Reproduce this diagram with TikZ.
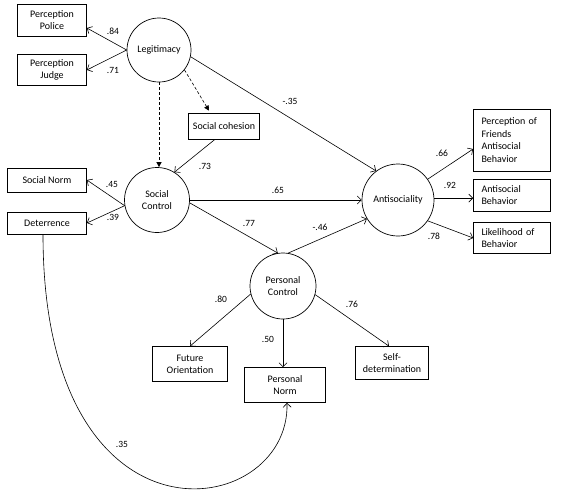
\documentclass[tikz,border=0pt]{standalone}
\usepackage{fontspec}
\setmainfont{Carlito}
\usepackage{tikz}
\usetikzlibrary{positioning, arrows.meta}

\begin{document}
\begin{tikzpicture}[
x=1pt, y=-1pt,
latent/.style={circle, draw, line width=0.7pt, inner sep=0pt, align=center, font=\fontsize{10}{12}\selectfont},
box/.style={rectangle, draw, line width=0.7pt, inner sep=0pt, align=center, font=\fontsize{10}{12}\selectfont},
boxleft/.style={box, align=left, text width=61pt, inner xsep=8pt, font=\fontsize{10}{12.6}\selectfont},
arrow/.style={-{Straight Barb[length=4pt, width=8pt]}, line width=0.6pt},
arrownv/.style={-{Triangle[length=5pt, width=5pt]}, line width=0.6pt, dash pattern=on 3pt off 2pt},
coef/.style={font=\fontsize{9.5}{11}\selectfont, inner sep=0pt}
]
\useasboundingbox (0,0) rectangle (566,496);

\node[latent, minimum size=64pt] (sem_legitimacy) at (159,50) {Legitimacy};
\node[latent, minimum size=65pt] (sem_socialctl) at (157,200) {Social\\Control};
\node[latent, minimum size=72pt] (sem_antisociality) at (398,200) {Antisociality};
\node[latent, minimum size=66pt] (sem_personalctl) at (283,286) {Personal\\Control};

\node[box, minimum width=69pt, minimum height=32pt] (box_police) at (52,20) {Perception\\Police};
\node[box, minimum width=69pt, minimum height=31pt] (box_judge) at (52,70) {Perception\\Judge};
\node[box, minimum width=71pt, minimum height=26pt] (box_cohesion) at (224,126) {Social cohesion};
\node[box, minimum width=79pt, minimum height=24pt] (box_socialnorm) at (47,180) {Social Norm};
\node[box, minimum width=79pt, minimum height=22pt] (box_deterrence) at (47,223) {Deterrence};
\node[boxleft, minimum height=62pt] (box_friends) at (512,140) {Perception of\\Friends\\Antisocial\\Behavior};
\node[boxleft, minimum height=32pt] (box_antisocial) at (512,195) {Antisocial\\Behavior};
\node[boxleft, minimum height=31pt] (box_likelihood) at (512,238) {Likelihood of\\Behavior};
\node[box, minimum width=75pt, minimum height=35pt] (box_future) at (190,364) {Future\\Orientation};
\node[box, minimum width=81pt, minimum height=35pt] (box_personalnorm) at (285,385) {Personal\\Norm};
\node[box, minimum width=73pt, minimum height=33pt] (box_selfdet) at (392,363) {Self-\\determination};

\draw[arrow] (sem_legitimacy.west) -- ([yshift=-8pt]box_police.east);
\draw[arrow] (sem_legitimacy.west) -- (box_judge.east);
\draw[arrow] (sem_legitimacy.-12) -- (sem_antisociality.127);
\draw[arrownv] (sem_legitimacy.south) -- (sem_legitimacy.south |- sem_socialctl.north);
\draw[arrownv] (sem_legitimacy.-38) -- ([xshift=-15pt, yshift=2pt]box_cohesion.north);
\draw[arrow] ([xshift=-9pt]box_cohesion.south) -- (sem_socialctl.58);
\draw[arrow] (sem_socialctl.190) -- (box_socialnorm.east);
\draw[arrow] (sem_socialctl.190) -- (box_deterrence.east);
\draw[arrow] (sem_socialctl.east) -- (sem_antisociality.west);
\draw[arrow] (sem_socialctl.-5) -- (sem_personalctl.99);
\draw[arrow] (sem_personalctl.81) -- (sem_antisociality.211);
\draw[arrow] (sem_antisociality.35) -- ([yshift=-9pt]box_friends.west);
\draw[arrow] (sem_antisociality.3) -- (sem_antisociality.3 -| box_antisocial.west);
\draw[arrow] (sem_antisociality.-35) -- (box_likelihood.west);
\draw[arrow] (sem_personalctl.194) -- (box_future.north);
\draw[arrow] (sem_personalctl.south) -- (sem_personalctl.south |- box_personalnorm.north);
\draw[arrow] (sem_personalctl.-15) -- ([xshift=-3pt]box_selfdet.north);
\draw[arrow] ([xshift=-4pt]box_deterrence.south) .. controls +(0,326) and +(3,118) .. ([xshift=2pt]box_personalnorm.south);

\node[coef] (w_police) at (113,31) {.84};
\node[coef] (w_judge) at (113,70) {.71};
\node[coef] (w_legit_anti) at (290,101) {-.35};
\node[coef] (w_cohesion) at (205,166) {.73};
\node[coef] (w_socialnorm) at (112,184) {.45};
\node[coef] (w_deterrence) at (113,217) {.39};
\node[coef] (w_social_anti) at (278,190) {.65};
\node[coef] (w_social_pers) at (249,223) {.77};
\node[coef] (w_pers_anti) at (320,227) {-.46};
\node[coef] (w_friends) at (442,153) {.66};
\node[coef] (w_antisocial) at (450,185) {.92};
\node[coef] (w_likelihood) at (434,236) {.78};
\node[coef] (w_future) at (221,299) {.80};
\node[coef] (w_personalnorm) at (268,339) {.50};
\node[coef] (w_selfdet) at (352,304) {.76};
\node[coef] (w_deter_norm) at (122,444) {.35};

\end{tikzpicture}
\end{document}
